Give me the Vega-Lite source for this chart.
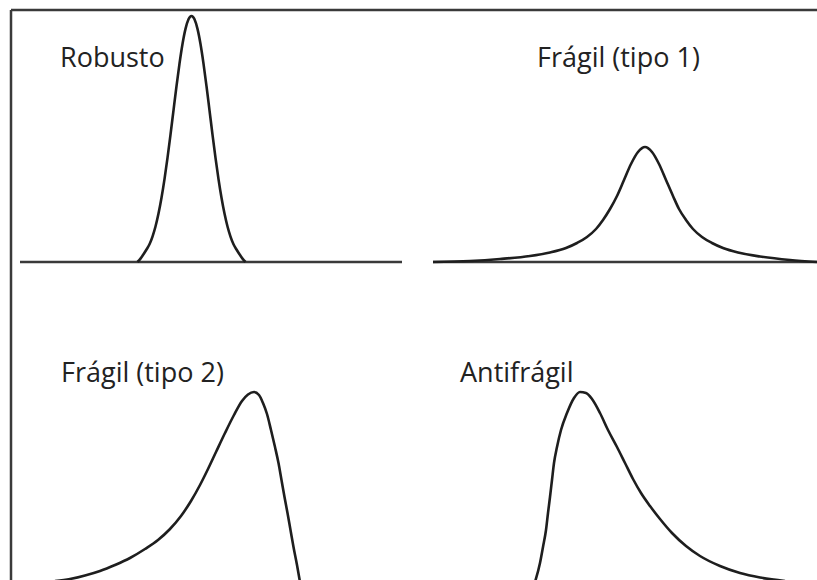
{
  "$schema": "https://vega.github.io/schema/vega-lite/v6.json",
  "width": 817,
  "height": 580,
  "padding": 0,
  "autosize": {"type": "none"},
  "background": "white",
  "config": {"view": {"stroke": null}},
  "datasets": {
    "curves": [
      {"shape": "Robusto", "x": 137.5, "y": 262}, {"shape": "Robusto", "x": 140.5, "y": 258.6}, {"shape": "Robusto", "x": 143.5, "y": 254.3}, {"shape": "Robusto", "x": 146.5, "y": 249.5}, {"shape": "Robusto", "x": 149.5, "y": 244.3}, {"shape": "Robusto", "x": 152.5, "y": 236.6}, {"shape": "Robusto", "x": 155.5, "y": 226.5}, {"shape": "Robusto", "x": 158.5, "y": 213.6}, {"shape": "Robusto", "x": 161.5, "y": 197.8}, {"shape": "Robusto", "x": 164.5, "y": 179.1}, {"shape": "Robusto", "x": 167.5, "y": 157.9}, {"shape": "Robusto", "x": 170.5, "y": 134.6}, {"shape": "Robusto", "x": 173.5, "y": 110.3}, {"shape": "Robusto", "x": 176.5, "y": 86.2}, {"shape": "Robusto", "x": 179.5, "y": 63.6}, {"shape": "Robusto", "x": 182.5, "y": 44}, {"shape": "Robusto", "x": 185.5, "y": 28.9}, {"shape": "Robusto", "x": 188.5, "y": 19.3}, {"shape": "Robusto", "x": 191.5, "y": 16}, {"shape": "Robusto", "x": 194.5, "y": 19.3}, {"shape": "Robusto", "x": 197.5, "y": 28.9}, {"shape": "Robusto", "x": 200.5, "y": 44}, {"shape": "Robusto", "x": 203.5, "y": 63.6}, {"shape": "Robusto", "x": 206.5, "y": 86.2}, {"shape": "Robusto", "x": 209.5, "y": 110.3}, {"shape": "Robusto", "x": 212.5, "y": 134.6}, {"shape": "Robusto", "x": 215.5, "y": 157.9}, {"shape": "Robusto", "x": 218.5, "y": 179.1}, {"shape": "Robusto", "x": 221.5, "y": 197.8}, {"shape": "Robusto", "x": 224.5, "y": 213.6}, {"shape": "Robusto", "x": 227.5, "y": 226.5}, {"shape": "Robusto", "x": 230.5, "y": 236.6}, {"shape": "Robusto", "x": 233.5, "y": 244.3}, {"shape": "Robusto", "x": 236.5, "y": 249.5}, {"shape": "Robusto", "x": 239.5, "y": 254.3}, {"shape": "Robusto", "x": 242.5, "y": 258.6}, {"shape": "Robusto", "x": 245.5, "y": 262},

      {"shape": "Frágil (tipo 1)", "x": 433, "y": 262}, {"shape": "Frágil (tipo 1)", "x": 470, "y": 261}, {"shape": "Frágil (tipo 1)", "x": 500, "y": 259}, {"shape": "Frágil (tipo 1)", "x": 530, "y": 256}, {"shape": "Frágil (tipo 1)", "x": 550, "y": 252.5}, {"shape": "Frágil (tipo 1)", "x": 566, "y": 248}, {"shape": "Frágil (tipo 1)", "x": 577, "y": 243}, {"shape": "Frágil (tipo 1)", "x": 587, "y": 237}, {"shape": "Frágil (tipo 1)", "x": 596, "y": 229}, {"shape": "Frágil (tipo 1)", "x": 603, "y": 220}, {"shape": "Frágil (tipo 1)", "x": 610, "y": 209}, {"shape": "Frágil (tipo 1)", "x": 617, "y": 196}, {"shape": "Frágil (tipo 1)", "x": 624, "y": 180}, {"shape": "Frágil (tipo 1)", "x": 631, "y": 164}, {"shape": "Frágil (tipo 1)", "x": 638, "y": 152}, {"shape": "Frágil (tipo 1)", "x": 645, "y": 147}, {"shape": "Frágil (tipo 1)", "x": 652, "y": 152}, {"shape": "Frágil (tipo 1)", "x": 659, "y": 164}, {"shape": "Frágil (tipo 1)", "x": 666, "y": 180}, {"shape": "Frágil (tipo 1)", "x": 673, "y": 196}, {"shape": "Frágil (tipo 1)", "x": 679, "y": 209}, {"shape": "Frágil (tipo 1)", "x": 686, "y": 220}, {"shape": "Frágil (tipo 1)", "x": 693, "y": 229}, {"shape": "Frágil (tipo 1)", "x": 702, "y": 237}, {"shape": "Frágil (tipo 1)", "x": 712, "y": 243}, {"shape": "Frágil (tipo 1)", "x": 723, "y": 248}, {"shape": "Frágil (tipo 1)", "x": 738, "y": 252.5}, {"shape": "Frágil (tipo 1)", "x": 760, "y": 256.5}, {"shape": "Frágil (tipo 1)", "x": 790, "y": 260}, {"shape": "Frágil (tipo 1)", "x": 817, "y": 262},

      {"shape": "Frágil (tipo 2)", "x": 55, "y": 581}, {"shape": "Frágil (tipo 2)", "x": 70, "y": 579}, {"shape": "Frágil (tipo 2)", "x": 85, "y": 575.5}, {"shape": "Frágil (tipo 2)", "x": 100, "y": 571}, {"shape": "Frágil (tipo 2)", "x": 115, "y": 565}, {"shape": "Frágil (tipo 2)", "x": 130, "y": 558}, {"shape": "Frágil (tipo 2)", "x": 145, "y": 549}, {"shape": "Frágil (tipo 2)", "x": 158, "y": 540}, {"shape": "Frágil (tipo 2)", "x": 170, "y": 529}, {"shape": "Frágil (tipo 2)", "x": 181, "y": 516}, {"shape": "Frágil (tipo 2)", "x": 191, "y": 501}, {"shape": "Frágil (tipo 2)", "x": 200, "y": 485}, {"shape": "Frágil (tipo 2)", "x": 208, "y": 469}, {"shape": "Frágil (tipo 2)", "x": 216, "y": 452}, {"shape": "Frágil (tipo 2)", "x": 225, "y": 433}, {"shape": "Frágil (tipo 2)", "x": 234, "y": 415}, {"shape": "Frágil (tipo 2)", "x": 242, "y": 401}, {"shape": "Frágil (tipo 2)", "x": 248, "y": 394.5}, {"shape": "Frágil (tipo 2)", "x": 254, "y": 392}, {"shape": "Frágil (tipo 2)", "x": 259, "y": 395}, {"shape": "Frágil (tipo 2)", "x": 263, "y": 403}, {"shape": "Frágil (tipo 2)", "x": 267, "y": 414}, {"shape": "Frágil (tipo 2)", "x": 271, "y": 430}, {"shape": "Frágil (tipo 2)", "x": 275, "y": 447}, {"shape": "Frágil (tipo 2)", "x": 278.5, "y": 463}, {"shape": "Frágil (tipo 2)", "x": 281.5, "y": 480}, {"shape": "Frágil (tipo 2)", "x": 284.5, "y": 497}, {"shape": "Frágil (tipo 2)", "x": 287.5, "y": 513}, {"shape": "Frágil (tipo 2)", "x": 290.5, "y": 530}, {"shape": "Frágil (tipo 2)", "x": 293.5, "y": 547}, {"shape": "Frágil (tipo 2)", "x": 297, "y": 565}, {"shape": "Frágil (tipo 2)", "x": 300, "y": 582},

      {"shape": "Antifrágil", "x": 535, "y": 582}, {"shape": "Antifrágil", "x": 540, "y": 563}, {"shape": "Antifrágil", "x": 543, "y": 547}, {"shape": "Antifrágil", "x": 546, "y": 530}, {"shape": "Antifrágil", "x": 548, "y": 513}, {"shape": "Antifrágil", "x": 550, "y": 497}, {"shape": "Antifrágil", "x": 552, "y": 480}, {"shape": "Antifrágil", "x": 554, "y": 463}, {"shape": "Antifrágil", "x": 557, "y": 447}, {"shape": "Antifrágil", "x": 561, "y": 430}, {"shape": "Antifrágil", "x": 567, "y": 413}, {"shape": "Antifrágil", "x": 574, "y": 398}, {"shape": "Antifrágil", "x": 580, "y": 392}, {"shape": "Antifrágil", "x": 586, "y": 393}, {"shape": "Antifrágil", "x": 592, "y": 399}, {"shape": "Antifrágil", "x": 600, "y": 413}, {"shape": "Antifrágil", "x": 608, "y": 430}, {"shape": "Antifrágil", "x": 617, "y": 447}, {"shape": "Antifrágil", "x": 625, "y": 463}, {"shape": "Antifrágil", "x": 633, "y": 479}, {"shape": "Antifrágil", "x": 641, "y": 493}, {"shape": "Antifrágil", "x": 650, "y": 506}, {"shape": "Antifrágil", "x": 660, "y": 519}, {"shape": "Antifrágil", "x": 672, "y": 533}, {"shape": "Antifrágil", "x": 686, "y": 546}, {"shape": "Antifrágil", "x": 700, "y": 556}, {"shape": "Antifrágil", "x": 720, "y": 566}, {"shape": "Antifrágil", "x": 740, "y": 573}, {"shape": "Antifrágil", "x": 760, "y": 577.5}, {"shape": "Antifrágil", "x": 785, "y": 581}
    ],
    "rules": [
      {"part": "marco superior", "x": 11, "x2": 817, "y": 10, "y2": 10},
      {"part": "marco izquierdo", "x": 11, "x2": 11, "y": 10, "y2": 580},
      {"part": "base Robusto", "x": 20, "x2": 402, "y": 262, "y2": 262},
      {"part": "base Frágil (tipo 1)", "x": 433, "x2": 817, "y": 262, "y2": 262}
    ],
    "labels": [
      {"label": "Robusto", "x": 60, "y": 67},
      {"label": "Frágil (tipo 1)", "x": 537, "y": 67},
      {"label": "Frágil (tipo 2)", "x": 61, "y": 382},
      {"label": "Antifrágil", "x": 460, "y": 382}
    ]
  },
  "layer": [
    {
      "data": {"name": "rules"},
      "mark": {"type": "rule", "stroke": "#3a3a3a", "strokeWidth": 2.5},
      "encoding": {
        "x": {"field": "x", "type": "quantitative", "scale": {"domain": [0, 817], "nice": false, "zero": false}, "axis": null},
        "x2": {"field": "x2"},
        "y": {"field": "y", "type": "quantitative", "scale": {"domain": [0, 580], "nice": false, "zero": false, "reverse": true}, "axis": null},
        "y2": {"field": "y2"}
      }
    },
    {
      "data": {"name": "curves"},
      "mark": {"type": "line", "interpolate": "monotone", "stroke": "#1e1e1e", "strokeWidth": 2.6, "clip": true},
      "encoding": {
        "x": {"field": "x", "type": "quantitative", "axis": null},
        "y": {"field": "y", "type": "quantitative", "axis": null},
        "detail": {"field": "shape", "type": "nominal"},
        "order": {"field": "x", "type": "quantitative"}
      }
    },
    {
      "data": {"name": "labels"},
      "mark": {"type": "text", "align": "left", "baseline": "alphabetic", "font": "Open Sans", "fontSize": 27, "fill": "#222222"},
      "encoding": {
        "x": {"field": "x", "type": "quantitative", "axis": null},
        "y": {"field": "y", "type": "quantitative", "axis": null},
        "text": {"field": "label", "type": "nominal"}
      }
    }
  ],
  "resolve": {"scale": {"x": "shared", "y": "shared"}}
}
